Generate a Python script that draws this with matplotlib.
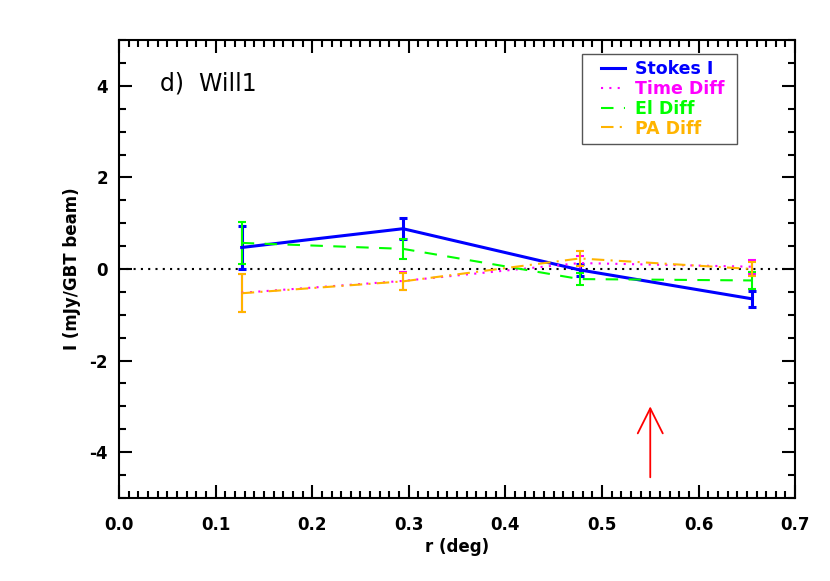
import matplotlib
matplotlib.use("Agg")
import matplotlib.pyplot as plt
from matplotlib.lines import Line2D
from matplotlib.legend_handler import HandlerLine2D
from matplotlib.ticker import MultipleLocator

# radius of each annulus (deg)
r = [0.127, 0.294, 0.477, 0.655]

stokes_i = [0.47, 0.88, -0.02, -0.65]
stokes_i_err = [0.47, 0.23, 0.14, 0.17]

time_diff = [-0.52, -0.26, 0.13, 0.05]
time_diff_err = [0.41, 0.19, 0.15, 0.15]

el_diff = [0.57, 0.44, -0.22, -0.25]
el_diff_err = [0.46, 0.22, 0.14, 0.18]

pa_diff = [-0.53, -0.27, 0.23, 0.0]
pa_diff_err = [0.41, 0.19, 0.17, 0.15]

ARROW_X = 0.55
ARROW_Y = (-4.55, -3.0)

BLUE = "#0000ff"
MAGENTA = "#ff00ff"
GREEN = "#00ff00"
ORANGE = "#ffb400"


def plot_series(ax, y, err, color, ls, lw, label):
    ax.errorbar(r, y, yerr=err, color=color, ls=ls, lw=lw, elinewidth=lw,
                capsize=3, capthick=lw)
    return Line2D([], [], color=color, ls=ls, lw=lw, label=label)


fig = plt.figure(figsize=(8.3, 5.81), dpi=100)
ax = fig.add_axes([0.1434, 0.143, 0.8146, 0.788])

ax.axhline(0, color="black", ls=(0, (1, 2.5)), lw=1.5, zorder=1)

handles = [
    plot_series(ax, stokes_i, stokes_i_err, BLUE, "-", 2.2, "Stokes I "),
    plot_series(ax, time_diff, time_diff_err, MAGENTA, (0, (1, 3)), 1.5, "Time Diff "),
    plot_series(ax, el_diff, el_diff_err, GREEN, (0, (6, 5)), 1.5, "El Diff "),
    plot_series(ax, pa_diff, pa_diff_err, ORANGE, (0, (6, 3, 1, 3)), 1.5, "PA Diff "),
]

ax.annotate("", xy=(ARROW_X, ARROW_Y[1]), xytext=(ARROW_X, ARROW_Y[0]),
            arrowprops=dict(arrowstyle="->,head_length=1.0,head_width=0.5",
                            color="red", lw=1.3, mutation_scale=18,
                            shrinkA=0, shrinkB=0))

ax.set_xlim(0.0, 0.7)
ax.set_ylim(-5, 5)
ax.xaxis.set_major_locator(MultipleLocator(0.1))
ax.xaxis.set_minor_locator(MultipleLocator(0.01))
ax.yaxis.set_major_locator(MultipleLocator(2))
ax.yaxis.set_minor_locator(MultipleLocator(0.5))
ax.xaxis.set_major_formatter(plt.FormatStrFormatter("%.1f"))
ax.yaxis.set_major_formatter(plt.FormatStrFormatter("%d"))

ax.tick_params(which="both", direction="in", top=True, right=True, width=1.5)
ax.tick_params(which="major", length=9.5, labelsize=12)
ax.tick_params(axis="x", which="major", pad=13)
ax.tick_params(axis="y", which="major", pad=8)
ax.tick_params(which="minor", length=5)
for lab in ax.get_xticklabels() + ax.get_yticklabels():
    lab.set_fontweight("bold")
for sp in ax.spines.values():
    sp.set_linewidth(1.5)

ax.set_xlabel("r (deg)", fontsize=12, fontweight="bold", labelpad=3)
ax.set_ylabel("I (mJy/GBT beam)", fontsize=12, fontweight="bold", labelpad=6)

ax.text(0.06, 0.905, "d)  Will1", transform=ax.transAxes, fontsize=17,
        ha="left", va="center")

leg = ax.legend(handles=handles, loc="upper left",
                bbox_to_anchor=(0.685, 0.969),
                handler_map={Line2D: HandlerLine2D(xpad=0.72)},
                borderaxespad=0, fancybox=False, framealpha=1,
                edgecolor="#555555", labelcolor="linecolor",
                prop=dict(size=12.5, weight="bold"), handlelength=2.1,
                labelspacing=0.1, borderpad=0.35, handletextpad=0.6)
leg.get_frame().set_linewidth(1.0)

fig.savefig("out.png", dpi=100)
